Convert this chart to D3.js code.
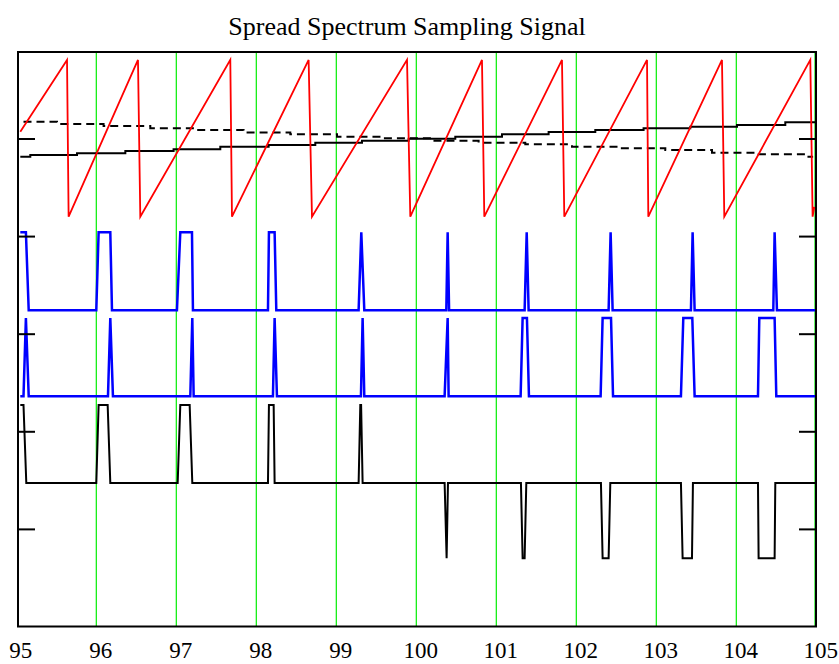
<!DOCTYPE html>
<html>
<head>
<meta charset="utf-8">
<script src="https://cdn.jsdelivr.net/npm/d3@7/dist/d3.min.js"></script>
<style>
  body { margin: 0; background: #fff; }
  text { font-family: "Liberation Serif", "Times New Roman", serif; }
</style>
</head>
<body>
<div id="viz"></div>
<script>
const width = 839;
const height = 664;
const frame = { left: 18, right: 816, top: 52, bottom: 626.5 };

const xTickValues = [95, 96, 97, 98, 99, 100, 101, 102, 103, 104, 105];
const yTickValues = [1, 2, 3, 4, 5];

// red sawtooth: [time, value] corners
const sawtooth = [
  [95.05, 5.07], [95.634, 5.805], [95.654, 4.199],
  [96.521, 5.805], [96.55, 4.199],
  [97.675, 5.805], [97.696, 4.199],
  [98.654, 5.805], [98.696, 4.199],
  [99.884, 5.805], [99.925, 4.199],
  [100.821, 5.805], [100.85, 4.199],
  [101.821, 5.805], [101.85, 4.199],
  [102.884, 5.805], [102.9, 4.199],
  [103.821, 5.805], [103.85, 4.199],
  [104.925, 5.805], [104.954, 4.199],
  [104.975, 4.3]
];

// stepped slow signals
const risingTimes = [95.05, 95.175, 95.759, 96.363, 96.966, 97.55, 98.154, 98.7375, 99.321,
  99.904, 100.4875, 101.071, 101.654, 102.2375, 102.841, 103.425, 104.009, 104.6125, 105];
const risingLevels = [4.813, 4.831, 4.848, 4.872, 4.889, 4.916, 4.933, 4.957, 4.977,
  4.998, 5.018, 5.043, 5.067, 5.087, 5.104, 5.121, 5.138, 5.166, 5.166];

const fallingTimes = [95.09, 95.509, 96.091, 96.675, 97.259, 97.841, 98.425, 99.009, 99.591,
  100.196, 100.779, 101.3625, 101.946, 102.529, 103.1125, 103.696, 104.279, 104.884, 104.96];
const fallingLevels = [5.172, 5.149, 5.128, 5.104, 5.087, 5.06, 5.043, 5.018, 5.002,
  4.977, 4.957, 4.94, 4.916, 4.899, 4.882, 4.854, 4.838, 4.813, 4.813];

// pulse trains
const pulseA = [
  [95.05, 4.04], [95.12, 4.04], [95.155, 3.24],
  [96.0, 3.24], [96.029, 4.04], [96.175, 4.04], [96.196, 3.24],
  [97.008, 3.24], [97.05, 4.04], [97.196, 4.04], [97.208, 3.24],
  [98.146, 3.24], [98.158, 4.04], [98.229, 4.04], [98.25, 3.24],
  [99.279, 3.24], [99.3125, 4.04], [99.35, 3.24],
  [100.375, 3.24], [100.392, 4.04], [100.41, 3.24],
  [101.354, 3.24], [101.38, 4.04], [101.404, 3.24],
  [102.404, 3.24], [102.429, 4.04], [102.454, 3.24],
  [103.433, 3.24], [103.454, 4.04], [103.479, 3.24],
  [104.4625, 3.24], [104.479, 4.04], [104.508, 3.24],
  [105, 3.24]
];

const pulseB = [
  [95.05, 2.36], [95.09, 2.36], [95.12, 3.16], [95.155, 2.36],
  [96.146, 2.36], [96.175, 3.16], [96.208, 2.36],
  [97.175, 2.36], [97.2, 3.16], [97.217, 2.36],
  [98.208, 2.36], [98.229, 3.16], [98.258, 2.36],
  [99.308, 2.36], [99.329, 3.16], [99.35, 2.36],
  [100.354, 2.36], [100.392, 3.16], [100.404, 2.36],
  [101.304, 2.36], [101.329, 3.16], [101.383, 3.16], [101.408, 2.36],
  [102.304, 2.36], [102.329, 3.16], [102.434, 3.16], [102.459, 2.36],
  [103.308, 2.36], [103.3375, 3.16], [103.45, 3.16], [103.479, 2.36],
  [104.271, 2.36], [104.2875, 3.16], [104.479, 3.16], [104.5, 2.36],
  [105, 2.36]
];

const pulseDiff = [
  [95.05, 2.27], [95.09, 2.27], [95.125, 1.47],
  [96.0, 1.47], [96.029, 2.27], [96.142, 2.27], [96.175, 1.47],
  [97.017, 1.47], [97.05, 2.27], [97.167, 2.27], [97.2, 1.47],
  [98.146, 1.47], [98.158, 2.27], [98.217, 2.27], [98.229, 1.47],
  [99.279, 1.47], [99.3, 2.27], [99.31, 2.27], [99.329, 1.47],
  [100.354, 1.47], [100.379, 0.70], [100.396, 1.47],
  [101.308, 1.47], [101.329, 0.70], [101.354, 0.70], [101.375, 1.47],
  [102.308, 1.47], [102.329, 0.70], [102.404, 0.70], [102.425, 1.47],
  [103.308, 1.47], [103.329, 0.70], [103.446, 0.70], [103.458, 1.47],
  [104.271, 1.47], [104.279, 0.70], [104.479, 0.70], [104.4875, 1.47],
  [105, 1.47]
];

const svg = d3.select('#viz')
  .append('svg')
  .attr('width', width)
  .attr('height', height);

const xScale = d3.scaleLinear().domain([95, 105]).range([16.3, 816.3]);
const yScale = d3.scaleLinear().domain([0, 5.886]).range([frame.bottom, frame.top]);

// title
svg.append('text')
  .attr('x', 407)
  .attr('y', 35)
  .attr('text-anchor', 'middle')
  .attr('font-size', 26)
  .text('Spread Spectrum Sampling Signal');

// green grid lines
svg.append('g')
  .selectAll('line')
  .data(xTickValues.slice(1))
  .join('line')
  .attr('x1', d => Math.min(xScale(d), frame.right - 1))
  .attr('x2', d => Math.min(xScale(d), frame.right - 1))
  .attr('y1', frame.top)
  .attr('y2', frame.bottom)
  .attr('stroke', '#00ee00')
  .attr('stroke-width', 1.2);

const line = d3.line().x(d => xScale(d[0])).y(d => yScale(d[1]));
const stepLine = d3.line().x(d => xScale(d[0])).y(d => yScale(d[1])).curve(d3.curveStepAfter);

svg.append('path')
  .attr('d', stepLine(risingTimes.map((t, i) => [t, risingLevels[i]])))
  .attr('fill', 'none').attr('stroke', '#000').attr('stroke-width', 2);

svg.append('path')
  .attr('d', stepLine(fallingTimes.map((t, i) => [t, fallingLevels[i]])))
  .attr('fill', 'none').attr('stroke', '#000').attr('stroke-width', 2)
  .attr('stroke-dasharray', '8,5');

svg.append('path')
  .attr('d', line(sawtooth))
  .attr('fill', 'none').attr('stroke', '#ff0000').attr('stroke-width', 1.8);

[pulseA, pulseB].forEach(series => {
  svg.append('path')
    .attr('d', line(series))
    .attr('fill', 'none').attr('stroke', '#0000ff').attr('stroke-width', 2.5);
});

svg.append('path')
  .attr('d', line(pulseDiff))
  .attr('fill', 'none').attr('stroke', '#000').attr('stroke-width', 2);

// frame
svg.append('rect')
  .attr('x', frame.left).attr('y', frame.top)
  .attr('width', frame.right - frame.left).attr('height', frame.bottom - frame.top)
  .attr('fill', 'none').attr('stroke', '#000').attr('stroke-width', 2);

// inner ticks on both sides
const leftAxis = d3.axisRight(yScale).tickValues(yTickValues).tickSize(17).tickFormat('');
const rightAxis = d3.axisLeft(yScale).tickValues(yTickValues).tickSize(17).tickFormat('');
svg.append('g').attr('transform', `translate(${frame.left},0)`).call(leftAxis);
svg.append('g').attr('transform', `translate(${frame.right},0)`).call(rightAxis);
svg.selectAll('.tick line').attr('stroke', '#000').attr('stroke-width', 2);
svg.selectAll('.domain').remove();

// x labels
svg.append('g')
  .selectAll('text')
  .data(xTickValues)
  .join('text')
  .attr('x', d => xScale(d) + 4.5)
  .attr('y', 658)
  .attr('text-anchor', 'middle')
  .attr('font-size', 23)
  .text(d => d);
</script>
</body>
</html>
